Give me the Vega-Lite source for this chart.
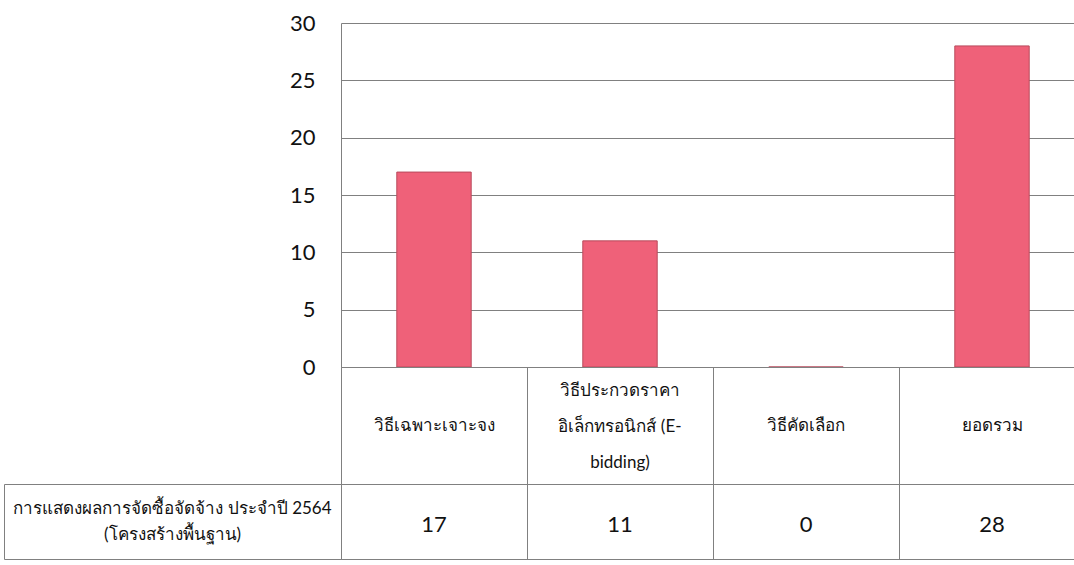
{
  "$schema": "https://vega.github.io/schema/vega-lite/v6.json",
  "background": "white",
  "padding": {"left": 3, "top": 12, "right": 0, "bottom": 0},
  "bounds": "flush",
  "spacing": 0,
  "columns": 2,
  "config": {
    "view": {"stroke": null},
    "font": "Lato, 'Noto Sans', sans-serif"
  },
  "datasets": {
    "d": [
      {"cat": "วิธีเฉพาะเจาะจง", "label": "วิธีเฉพาะเจาะจง", "value": 17},
      {"cat": "วิธีประกวดราคาอิเล็กทรอนิกส์ (E-bidding)", "label": "วิธีประกวดราคา\nอิเล็กทรอนิกส์ (E-\nbidding)", "value": 11},
      {"cat": "วิธีคัดเลือก", "label": "วิธีคัดเลือก", "value": 0},
      {"cat": "ยอดรวม", "label": "ยอดรวม", "value": 28}
    ],
    "row": [
      {"label": "การแสดงผลการจัดซื้อจัดจ้าง ประจำปี 2564\n(โครงสร้างพื้นฐาน)"}
    ]
  },
  "concat": [
    {
      "width": 337, "height": 344,
      "data": {"name": "row"},
      "mark": {"type": "text"},
      "encoding": {"text": {"value": ""}}
    },
    {
      "width": 734, "height": 344,
      "data": {"name": "d"},
      "mark": {"type": "bar", "fill": "#EF6179", "stroke": "#B84A5C", "strokeWidth": 1},
      "encoding": {
        "x": {"field": "cat", "type": "nominal", "sort": null,
              "scale": {"domain": ["วิธีเฉพาะเจาะจง", "วิธีประกวดราคาอิเล็กทรอนิกส์ (E-bidding)", "วิธีคัดเลือก", "ยอดรวม"],
                        "paddingInner": 0.6, "paddingOuter": 0.3, "range": [0, 744]},
              "axis": null},
        "y": {"field": "value", "type": "quantitative",
              "scale": {"domain": [0, 30], "nice": false},
              "axis": {"values": [0, 5, 10, 15, 20, 25, 30], "title": null,
                       "ticks": false, "domain": true, "domainColor": "#808080",
                       "gridColor": "#808080", "gridOpacity": 1, "gridWidth": 1,
                       "labelFontSize": 22, "labelColor": "#111", "labelPadding": 26,
                       "labelFont": "Lato, 'Noto Sans', sans-serif"}}
      }
    },
    {
      "width": 337, "height": 117,
      "data": {"name": "row"},
      "mark": {"type": "text"},
      "encoding": {"text": {"value": ""}}
    },
    {
      "width": 734, "height": 117,
      "data": {"name": "d"},
      "view": {"stroke": "#808080", "strokeWidth": 1},
      "encoding": {
        "x": {"field": "cat", "type": "nominal", "sort": null,
              "scale": {"domain": ["วิธีเฉพาะเจาะจง", "วิธีประกวดราคาอิเล็กทรอนิกส์ (E-bidding)", "วิธีคัดเลือก", "ยอดรวม"],
                        "paddingInner": 0, "paddingOuter": 0, "range": [0, 744]},
              "axis": {"title": null, "labels": false, "ticks": false, "domain": false,
                       "grid": true, "tickBand": "extent", "gridColor": "#808080", "gridOpacity": 1}},
        "text": {"field": "label"}
      },
      "layer": [
        {
          "transform": [{"filter": "indexof(datum.label, '\\n') < 0"}],
          "mark": {"type": "text", "fontSize": 17, "color": "#111", "baseline": "middle"}
        },
        {
          "transform": [{"filter": "indexof(datum.label, '\\n') >= 0"}],
          "mark": {"type": "text", "fontSize": 17, "lineBreak": "\n", "lineHeight": 36, "dy": -35, "color": "#111", "baseline": "middle"}
        }
      ]
    },
    {
      "width": 337, "height": 75,
      "data": {"name": "row"},
      "view": {"stroke": "#808080", "strokeWidth": 1},
      "mark": {"type": "text", "fontSize": 17, "lineBreak": "\n", "lineHeight": 26, "dy": -13, "color": "#111", "baseline": "middle"},
      "encoding": {"text": {"field": "label"}}
    },
    {
      "width": 734, "height": 75,
      "data": {"name": "d"},
      "view": {"stroke": "#808080", "strokeWidth": 1},
      "mark": {"type": "text", "fontSize": 22, "dy": 3, "color": "#111", "baseline": "middle"},
      "encoding": {
        "x": {"field": "cat", "type": "nominal", "sort": null,
              "scale": {"domain": ["วิธีเฉพาะเจาะจง", "วิธีประกวดราคาอิเล็กทรอนิกส์ (E-bidding)", "วิธีคัดเลือก", "ยอดรวม"],
                        "paddingInner": 0, "paddingOuter": 0, "range": [0, 744]},
              "axis": {"title": null, "labels": false, "ticks": false, "domain": false,
                       "grid": true, "tickBand": "extent", "gridColor": "#808080", "gridOpacity": 1}},
        "text": {"field": "value", "type": "quantitative"}
      }
    }
  ]
}
